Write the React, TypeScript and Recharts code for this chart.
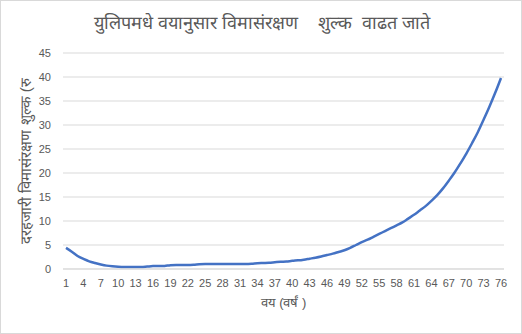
import { LineChart, Line, XAxis, YAxis, CartesianGrid, Label } from "recharts";

const ages = Array.from({ length: 76 }, (_, i) => i + 1);

// दरहजारी विमासंरक्षण शुल्क, वय 1..76 (चित्रावरून अंदाजे वाचलेले)
const premium = [
  4.4, 3.6, 2.7, 2.1, 1.6, 1.25, 0.95, 0.7, 0.55, 0.45,
  0.4, 0.4, 0.4, 0.4, 0.5, 0.6, 0.6, 0.65, 0.8, 0.85,
  0.85, 0.85, 0.9, 1.0, 1.05, 1.05, 1.05, 1.05, 1.05, 1.05,
  1.05, 1.05, 1.1, 1.2, 1.25, 1.3, 1.4, 1.5, 1.55, 1.7,
  1.8, 1.95, 2.15, 2.35, 2.6, 2.9, 3.2, 3.55, 3.9, 4.4,
  5.0, 5.6, 6.1, 6.7, 7.3, 7.9, 8.5, 9.1, 9.7, 10.5,
  11.3, 12.2, 13.1, 14.2, 15.4, 16.8, 18.4, 20.1, 22.0, 24.0,
  26.2, 28.5, 31.1, 33.8, 36.7, 39.8,
];

const yTicks = [0, 5, 10, 15, 20, 25, 30, 35, 40, 45];

const title = "युलिपमधे वयानुसार विमासंरक्षण    शुल्क  वाढत जाते";
const xTitle = "वय (वर्षं )";
const yTitle = "दरहजारी विमासंरक्षण  शुल्क  (रु";

const data = ages.map((age, i) => ({ age, premium: premium[i] }));

const grey = "#595959";

export default function App() {
  return (
    <div
      style={{
        position: "fixed",
        left: 0,
        top: 0,
        width: 522,
        height: 334,
        boxSizing: "border-box",
        border: "1px solid #d9d9d9",
        background: "#fff",
        fontFamily: "'Liberation Sans', sans-serif",
      }}
    >
      <div
        style={{
          position: "absolute",
          left: 0,
          top: 9,
          width: 522,
          textAlign: "center",
          fontSize: 18,
          color: grey,
          whiteSpace: "pre",
        }}
      >
        {title}
      </div>
      <div style={{ position: "absolute", left: -1, top: -1 }}>
        <LineChart
          width={522}
          height={334}
          data={data}
          margin={{ top: 53, right: 18, left: 0, bottom: 0 }}
        >
          <CartesianGrid vertical={false} stroke="#d9d9d9" />
          <XAxis
            dataKey="age"
            interval={2}
            height={65}
            padding={{ left: 3, right: 3 }}
            tickLine={false}
            axisLine={{ stroke: "#d9d9d9" }}
            tick={{ fontSize: 11, fill: grey }}
            tickMargin={4}
          >
            <Label
              value={xTitle}
              position="insideTop"
              offset={29}
              style={{ fontSize: 13, fill: grey }}
            />
          </XAxis>
          <YAxis
            width={63}
            domain={[0, 45]}
            ticks={yTicks}
            axisLine={false}
            tickLine={false}
            tickMargin={6}
            tick={{ fontSize: 11, fill: grey }}
          >
            <Label
              value={yTitle}
              angle={-90}
              position="insideLeft"
              offset={26}
              style={{ fontSize: 15, fill: grey, textAnchor: "middle", whiteSpace: "pre" }}
            />
          </YAxis>
          <Line
            type="monotone"
            dataKey="premium"
            stroke="#4472c4"
            strokeWidth={2.5}
            dot={false}
            isAnimationActive={false}
          />
        </LineChart>
      </div>
    </div>
  );
}
